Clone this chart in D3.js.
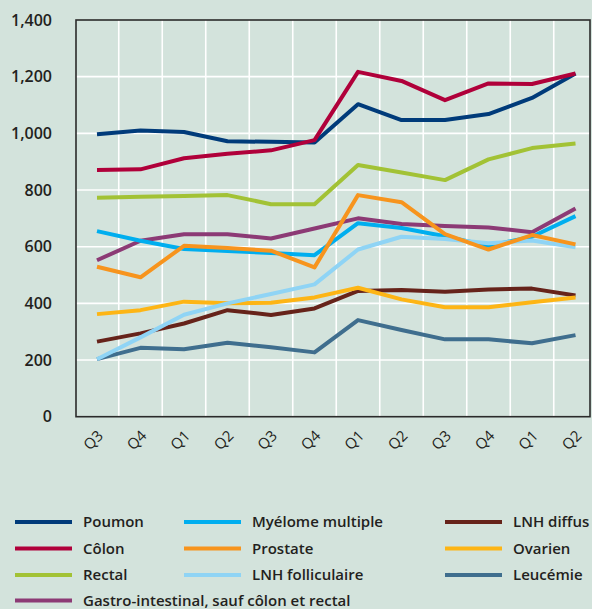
<!DOCTYPE html>
<html lang="fr">
<head>
  <meta charset="UTF-8">
  <title>Cancers - évolution trimestrielle</title>
  <script src="https://d3js.org/d3.v7.min.js"></script>
  <style>
    body { margin: 0; background: #d3e3dc; }
    text { font-family: "Open Sans", "DejaVu Sans", sans-serif; fill: #231f20; }
  </style>
</head>
<body>
  <div id="chart"></div>
  <script>
    // quarter labels along the x axis
    const quarters = ["Q3", "Q4", "Q1", "Q2", "Q3", "Q4", "Q1", "Q2", "Q3", "Q4", "Q1", "Q2"];
    const yTicks = [0, 200, 400, 600, 800, 1000, 1200, 1400];

    // series values
    const poumon      = [997, 1010, 1005, 972, 970, 968, 1103, 1047, 1047, 1068, 1125, 1211];
    const colon       = [871, 873, 912, 928, 940, 976, 1217, 1185, 1117, 1176, 1174, 1211];
    const rectal      = [773, 776, 779, 782, 750, 750, 888, 862, 835, 908, 948, 964];
    const gastro      = [552, 621, 644, 644, 629, 664, 700, 680, 673, 668, 651, 735];
    const myelome     = [655, 621, 592, 585, 578, 570, 683, 666, 637, 603, 635, 708];
    const prostate    = [529, 492, 603, 595, 586, 527, 782, 757, 644, 590, 641, 608];
    const lnhFollic   = [203, 280, 360, 400, 433, 467, 590, 635, 627, 612, 622, 598];
    const lnhDiffus   = [265, 294, 329, 376, 359, 382, 444, 447, 441, 449, 452, 428];
    const ovarien     = [362, 376, 406, 400, 402, 421, 455, 414, 386, 386, 404, 421];
    const leucemie    = [203, 243, 238, 261, 245, 227, 341, 306, 273, 273, 259, 288];

    const series = [
      { name: "Poumon", values: poumon, color: "#003b7a", col: 0, row: 0 },
      { name: "Côlon", values: colon, color: "#b0003a", col: 0, row: 1 },
      { name: "Rectal", values: rectal, color: "#a2c235", col: 0, row: 2 },
      { name: "Gastro-intestinal, sauf côlon et rectal", values: gastro, color: "#8c3a75", col: 0, row: 3 },
      { name: "Myélome multiple", values: myelome, color: "#00aeef", col: 1, row: 0 },
      { name: "Prostate", values: prostate, color: "#f7941d", col: 1, row: 1 },
      { name: "LNH folliculaire", values: lnhFollic, color: "#8fd4f5", col: 1, row: 2 },
      { name: "LNH diffus", values: lnhDiffus, color: "#66231a", col: 2, row: 0 },
      { name: "Ovarien", values: ovarien, color: "#fdb515", col: 2, row: 1 },
      { name: "Leucémie", values: leucemie, color: "#3f6e8e", col: 2, row: 2 }
    ];

    // drawing order (last is on top)
    const drawOrder = ["Leucémie", "LNH diffus", "Ovarien", "Gastro-intestinal, sauf côlon et rectal",
      "Myélome multiple", "LNH folliculaire", "Prostate", "Rectal", "Poumon", "Côlon"];

    const width = 592, height = 609;
    const plotLeft = 76, plotRight = 590, plotTop = 20, plotBottom = 416.7;

    const svg = d3.select("#chart").append("svg")
      .attr("width", width)
      .attr("height", height);

    svg.append("rect")
      .attr("width", width).attr("height", height)
      .attr("fill", "#d3e3dc");

    const x = d3.scaleBand()
      .domain(d3.range(quarters.length))
      .range([75.25, 597.25]);
    const cx = i => x(i) + x.bandwidth() / 2;

    const y = d3.scaleLinear()
      .domain([0, 1400])
      .range([plotBottom, plotTop]);

    // white grid
    const grid = svg.append("g");
    grid.selectAll("line.h")
      .data(yTicks.filter(d => d > 0 && d < 1400))
      .enter().append("line")
      .attr("x1", plotLeft).attr("x2", plotRight)
      .attr("y1", d => y(d)).attr("y2", d => y(d))
      .attr("stroke", "#fff").attr("stroke-width", 1.6);
    grid.selectAll("line.v")
      .data(d3.range(1, quarters.length))
      .enter().append("line")
      .attr("x1", d => x(d)).attr("x2", d => x(d))
      .attr("y1", plotTop).attr("y2", plotBottom)
      .attr("stroke", "#fff").attr("stroke-width", 1.6);

    // y labels
    svg.append("g").selectAll("text")
      .data(yTicks)
      .enter().append("text")
      .attr("x", 52)
      .attr("y", d => y(d))
      .attr("dy", "0.36em")
      .attr("text-anchor", "end")
      .attr("font-size", 16)
      .attr("font-weight", 600)
      .text(d => d3.format(",")(d));

    // x labels
    svg.append("g").selectAll("text")
      .data(quarters)
      .enter().append("text")
      .attr("text-anchor", "end")
      .attr("font-size", 15)
      .attr("font-weight", 500)
      .attr("transform", (d, i) => `translate(${cx(i) + 7},${plotBottom + 20}) rotate(-45)`)
      .text(d => d);

    // lines
    const line = d3.line()
      .x((d, i) => cx(i))
      .y(d => y(d));

    const ordered = drawOrder.map(n => series.find(s => s.name === n));
    svg.append("g").selectAll("path")
      .data(ordered)
      .enter().append("path")
      .attr("d", d => line(d.values))
      .attr("fill", "none")
      .attr("stroke", d => d.color)
      .attr("stroke-width", 4)
      .attr("stroke-linejoin", "round");

    // frame
    svg.append("rect")
      .attr("x", plotLeft).attr("y", plotTop)
      .attr("width", plotRight - plotLeft).attr("height", plotBottom - plotTop)
      .attr("fill", "none")
      .attr("stroke", "#2b2b2b")
      .attr("stroke-width", 1.6);

    // legend
    const colX = [15, 184, 445];
    const rowY = [522, 548.5, 575, 600.5];
    const legend = svg.append("g").selectAll("g")
      .data(series)
      .enter().append("g")
      .attr("transform", d => `translate(${colX[d.col]},${rowY[d.row]})`);
    legend.append("line")
      .attr("x1", 0).attr("x2", 57)
      .attr("stroke", d => d.color)
      .attr("stroke-width", 4);
    legend.append("text")
      .attr("x", 68)
      .attr("dy", "0.35em")
      .attr("font-size", 15)
      .attr("font-weight", 600)
      .text(d => d.name);
  </script>
</body>
</html>
